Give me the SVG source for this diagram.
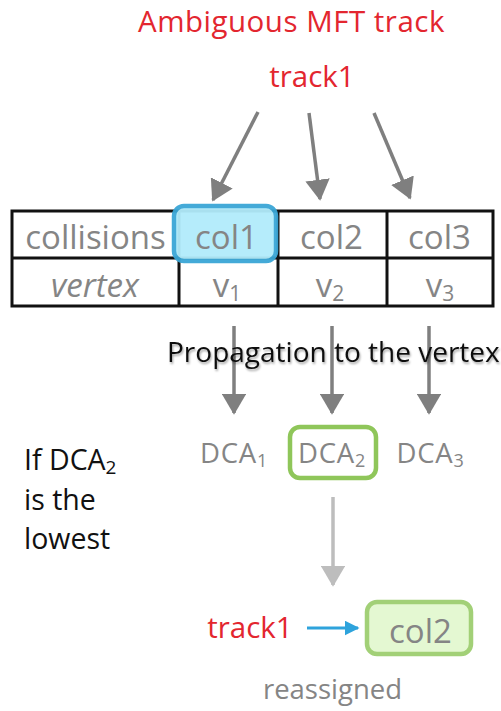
<svg xmlns="http://www.w3.org/2000/svg" width="501" height="711" viewBox="0 0 501 711">
<style>
text{font-family:"Open Sans","Noto Sans","Liberation Sans",sans-serif}
.red{fill:#e3262f}
.gray{fill:#858585}
.blk{fill:#111}
.cell{fill:none;stroke:#111;stroke-width:3}
.ar{stroke:#7f7f7f;stroke-width:3.5;fill:none}
.arl{stroke:#bdbdbd;stroke-width:3.5;fill:none}
</style>
<defs>
<filter id="sh" x="-5%" y="-20%" width="110%" height="150%"><feDropShadow dx="1" dy="2" stdDeviation="1" flood-color="#000" flood-opacity="0.35"/></filter>
<marker id="ah" markerWidth="7" markerHeight="7" refX="5.5" refY="3.5" orient="auto" markerUnits="strokeWidth"><path d="M0,0 L6,3.5 L0,7 Z" fill="#7f7f7f"/></marker>
<marker id="ahl" markerWidth="7" markerHeight="7" refX="5.5" refY="3.5" orient="auto" markerUnits="strokeWidth"><path d="M0,0 L6,3.5 L0,7 Z" fill="#bdbdbd"/></marker>
<marker id="ahb" markerWidth="6" markerHeight="6" refX="4.5" refY="2.5" orient="auto" markerUnits="strokeWidth"><path d="M0,0 L5,2.5 L0,5 Z" fill="#2ea3dc"/></marker>
</defs>
<g id="title"><text x="291.5" y="32" font-size="29.5" letter-spacing="0.5" text-anchor="middle" class="red">Ambiguous MFT track</text></g>
<g id="track1-top"><text x="312" y="87" font-size="29.5" text-anchor="middle" class="red">track1</text></g>
<g id="table">
<rect x="12" y="211" width="481" height="95" class="cell"/>
<line x1="12" y1="258" x2="493" y2="258" class="cell"/>
<line x1="179" y1="211" x2="179" y2="306" class="cell"/>
<line x1="278" y1="211" x2="278" y2="306" class="cell"/>
<line x1="387" y1="211" x2="387" y2="306" class="cell"/>
<rect x="174" y="206" width="102" height="55" rx="10" fill="#b2ecfb" stroke="#3aa6d6" stroke-width="4.5" opacity="0.95"/>
<text x="95.5" y="249" font-size="33" text-anchor="middle" class="gray">collisions</text>
<text x="226.5" y="249" font-size="33" text-anchor="middle" class="gray">col1</text>
<text x="331.5" y="249" font-size="33" text-anchor="middle" class="gray">col2</text>
<text x="439.5" y="249" font-size="33" text-anchor="middle" class="gray">col3</text>
<text x="95" y="297" font-size="33" font-style="italic" text-anchor="middle" class="gray">vertex</text>
<text x="227" y="297" font-size="33" text-anchor="middle" class="gray">v<tspan font-size="21" dy="4">1</tspan></text>
<text x="330" y="297" font-size="33" text-anchor="middle" class="gray">v<tspan font-size="21" dy="4">2</tspan></text>
<text x="440" y="297" font-size="33" text-anchor="middle" class="gray">v<tspan font-size="21" dy="4">3</tspan></text>
</g>
<g id="connectors">
<line x1="258" y1="112" x2="213" y2="200" class="ar" marker-end="url(#ah)"/>
<line x1="309" y1="113" x2="320" y2="199" class="ar" marker-end="url(#ah)"/>
<line x1="374" y1="113" x2="410" y2="198" class="ar" marker-end="url(#ah)"/>
<line x1="234" y1="326" x2="234" y2="413" class="ar" marker-end="url(#ah)"/>
<line x1="332" y1="326" x2="332" y2="413" class="ar" marker-end="url(#ah)"/>
<line x1="429" y1="326" x2="429" y2="413" class="ar" marker-end="url(#ah)"/>
<line x1="333" y1="497" x2="333" y2="585" class="arl" marker-end="url(#ahl)"/>
<line x1="307" y1="628" x2="358" y2="628" stroke="#2ea3dc" stroke-width="3" marker-end="url(#ahb)"/>
</g>
<g id="propagation">
<text x="167" y="362" font-size="28" class="blk" filter="url(#sh)">Propagation to the vertex</text>
</g>
<g id="dca">
<rect x="290" y="427" width="86" height="51" rx="10" fill="none" stroke="#8fc65a" stroke-width="4.5"/>
<text x="234" y="463" font-size="27.5" letter-spacing="0.8" text-anchor="middle" class="gray">DCA<tspan font-size="18" dy="4">1</tspan></text>
<text x="332" y="463" font-size="27.5" letter-spacing="0.8" text-anchor="middle" class="gray">DCA<tspan font-size="18" dy="4">2</tspan></text>
<text x="430.5" y="463" font-size="27.5" letter-spacing="0.8" text-anchor="middle" class="gray">DCA<tspan font-size="18" dy="4">3</tspan></text>
</g>
<g id="condition">
<text x="24" y="470" font-size="28.5" class="blk">If DCA<tspan font-size="19" dy="4">2</tspan></text>
<text x="24" y="510" font-size="28.5" class="blk">is the</text>
<text x="24" y="549" font-size="28.5" class="blk">lowest</text>
</g>
<g id="result">
<text x="250" y="638" font-size="29.5" text-anchor="middle" class="red">track1</text>
<rect x="367" y="602" width="104" height="52" rx="10" fill="#e4f8d2" stroke="#a2d077" stroke-width="4.5"/>
<text x="420.5" y="643" font-size="33" text-anchor="middle" class="gray">col2</text>
<text x="332.5" y="699" font-size="27.5" text-anchor="middle" class="gray">reassigned</text>
</g>
</svg>
